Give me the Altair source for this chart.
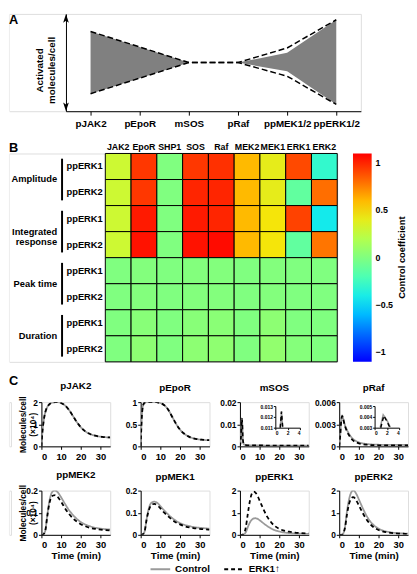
import altair as alt
import pandas as pd

FONT = "Liberation Sans"

# ---------------- Panel A ----------------
A_CATS = ["pJAK2", "pEpoR", "mSOS", "pRaf", "ppMEK1/2", "ppERK1/2"]
A_UPPER = [8.2, 6.6, 5.0, 5.0, 6.5, 9.4]
A_LOWER = [1.8, 3.4, 5.0, 5.0, 3.6, 0.7]
A_FILL_UPPER = [8.2, 6.6, 5.0, 5.0, 6.0, 9.4]
A_FILL_LOWER = [1.8, 3.4, 5.0, 5.0, 4.1, 0.7]
A_RANGE = [0, 10]
A_YTITLE = ["Activated", "molecules/cell"]

# ---------------- Panel B ----------------
B_COLS = ["JAK2", "EpoR", "SHP1", "SOS", "Raf", "MEK2", "MEK1", "ERK1", "ERK2"]
B_GROUPS = ["Amplitude", "Integrated\nresponse", "Peak time", "Duration"]
B_READOUTS = ["ppERK1", "ppERK2"]
B_VALUES = [
    [0.30, 0.95, 0.00, 0.95, 0.97, 0.60, 0.40, 0.90, -0.30],   # Amplitude ppERK1
    [0.30, 0.95, 0.00, 1.00, 1.00, 0.60, 0.40, -0.12, 0.80],   # Amplitude ppERK2
    [0.30, 1.03, 0.00, 1.03, 1.00, 0.60, 0.46, 0.92, -0.42],   # Integrated ppERK1
    [0.30, 1.05, 0.00, 1.05, 1.07, 0.60, 0.46, -0.12, 0.78],   # Integrated ppERK2
    [0.00, 0.01, 0.00, 0.01, 0.01, 0.00, 0.01, 0.00, 0.00],    # Peak time ppERK1
    [0.00, 0.01, 0.00, 0.01, 0.01, 0.00, 0.01, 0.00, 0.00],    # Peak time ppERK2
    [0.00, 0.03, 0.00, 0.03, 0.04, 0.00, 0.05, 0.00, 0.00],    # Duration ppERK1
    [0.00, 0.05, 0.00, 0.05, 0.06, 0.00, 0.07, 0.02, 0.00],    # Duration ppERK2
]
CB_STOPS = [-1.1, -0.75, -0.5, -0.25, 0, 0.25, 0.5, 0.75, 1.1]
CB_COLORS = ["#0000ff", "#0080ff", "#00e0ff", "#40ffc0", "#80ff80",
             "#c0ff40", "#ffe000", "#ff8000", "#ff0000"]
CB_TICKS = [-1, -0.5, 0, 0.5, 1]
CB_TITLE = "Control coefficient"

# ---------------- Panel C ----------------
SERIES = ["Control", "ERK1\u2191"]
T = [0, 0.5, 1, 1.5, 2, 3, 4, 5, 6, 7, 8, 9, 10, 12, 14, 16, 18, 20, 22, 25, 28, 31, 35]
PJAK2_CTRL = [0, 0.65, 1.05, 1.35, 1.55, 1.78, 1.9, 1.96, 1.99, 2.0, 2.0, 1.99, 1.96, 1.85, 1.65, 1.38, 1.1, 0.87, 0.7, 0.55, 0.47, 0.43, 0.4]
PJAK2_ERK1 = [0, 0.65, 1.05, 1.35, 1.55, 1.78, 1.9, 1.96, 1.99, 2.0, 2.0, 1.99, 1.96, 1.85, 1.65, 1.38, 1.1, 0.87, 0.7, 0.55, 0.47, 0.43, 0.4]
PEPOR_CTRL = [0, 0.6, 0.88, 0.96, 0.99, 1.0, 1.0, 1.0, 1.0, 1.0, 1.0, 0.99, 0.98, 0.93, 0.83, 0.67, 0.51, 0.38, 0.29, 0.21, 0.17, 0.15, 0.14]
PEPOR_ERK1 = [0, 0.6, 0.88, 0.96, 0.99, 1.0, 1.0, 1.0, 1.0, 1.0, 1.0, 0.99, 0.98, 0.93, 0.83, 0.67, 0.51, 0.38, 0.29, 0.21, 0.17, 0.15, 0.14]
MSOS_CTRL = [0, 0.004, 0.0125, 0.003, 0.0009, 0.0006, 0.0005, 0.0005, 0.0004, 0.0004, 0.0004, 0.0004, 0.0004, 0.0004, 0.0003, 0.0003, 0.0003, 0.0003, 0.0003, 0.0003, 0.0003, 0.0003, 0.0003]
MSOS_ERK1 = [0, 0.004, 0.0125, 0.003, 0.0009, 0.0006, 0.0005, 0.0005, 0.0004, 0.0004, 0.0004, 0.0004, 0.0004, 0.0004, 0.0003, 0.0003, 0.0003, 0.0003, 0.0003, 0.0003, 0.0003, 0.0003, 0.0003]
PRAF_CTRL = [0, 0.0015, 0.0035, 0.0042, 0.0038, 0.0028, 0.0022, 0.0017, 0.0013, 0.001, 0.0008, 0.00065, 0.00055, 0.0004, 0.00032, 0.00027, 0.00024, 0.00022, 0.0002, 0.0002, 0.0002, 0.0002, 0.0002]
PRAF_ERK1 = [0, 0.0014, 0.0034, 0.0041, 0.0037, 0.0027, 0.002, 0.0015, 0.0011, 0.0008, 0.0006, 0.0005, 0.0004, 0.0003, 0.00022, 0.00018, 0.00016, 0.00015, 0.00014, 0.00013, 0.00012, 0.00012, 0.00012]
PPMEK2_CTRL = [0, 0, 0.002, 0.008, 0.02, 0.09, 0.15, 0.185, 0.198, 0.2, 0.195, 0.184, 0.17, 0.14, 0.112, 0.09, 0.072, 0.058, 0.048, 0.038, 0.031, 0.027, 0.024]
PPMEK2_ERK1 = [0, 0, 0.002, 0.008, 0.02, 0.085, 0.14, 0.17, 0.178, 0.18, 0.175, 0.163, 0.15, 0.12, 0.095, 0.075, 0.06, 0.048, 0.04, 0.031, 0.026, 0.022, 0.02]
PPMEK1_CTRL = [0, 0, 0.002, 0.006, 0.015, 0.07, 0.115, 0.14, 0.148, 0.15, 0.147, 0.14, 0.13, 0.11, 0.092, 0.076, 0.063, 0.053, 0.046, 0.039, 0.034, 0.031, 0.028]
PPMEK1_ERK1 = [0, 0, 0.002, 0.006, 0.015, 0.068, 0.107, 0.13, 0.138, 0.14, 0.136, 0.129, 0.12, 0.1, 0.083, 0.068, 0.056, 0.047, 0.04, 0.033, 0.029, 0.026, 0.023]
PPERK1_CTRL = [0, 0, 0, 0.005, 0.02, 0.12, 0.35, 0.55, 0.68, 0.74, 0.75, 0.72, 0.66, 0.52, 0.39, 0.28, 0.2, 0.15, 0.11, 0.08, 0.06, 0.05, 0.04]
PPERK1_ERK1 = [0, 0, 0, 0.01, 0.05, 0.35, 0.95, 1.5, 1.85, 1.95, 1.9, 1.75, 1.55, 1.15, 0.8, 0.55, 0.38, 0.27, 0.2, 0.14, 0.1, 0.08, 0.06]
PPERK2_CTRL = [0, 0, 0, 0.01, 0.05, 0.4, 1.1, 1.6, 1.9, 2.0, 1.95, 1.8, 1.6, 1.2, 0.85, 0.58, 0.4, 0.28, 0.2, 0.13, 0.09, 0.07, 0.05]
PPERK2_ERK1 = [0, 0, 0, 0.01, 0.05, 0.35, 0.95, 1.4, 1.62, 1.7, 1.65, 1.5, 1.33, 0.98, 0.68, 0.46, 0.31, 0.22, 0.16, 0.1, 0.07, 0.055, 0.04]

# insets (zoom on early times)
MSOS_INSET_T = [0.8, 1.0, 1.2]
MSOS_INSET_CTRL = [0.011, 0.0125, 0.011]
MSOS_INSET_ERK1 = [0.011, 0.0125, 0.011]
PRAF_INSET_T_CTRL = [0.9, 1.4, 2.0, 2.6]
PRAF_INSET_CTRL = [0.003, 0.0042, 0.0037, 0.003]
PRAF_INSET_T_ERK1 = [1.0, 1.5, 2.0, 2.5]
PRAF_INSET_ERK1 = [0.003, 0.0041, 0.0036, 0.003]

C_YTITLE = ["Molecules/cell", "(\u00d710\u2074)"]
C_XTITLE = "Time (min)"
C_XTICKS = [0, 10, 20, 30]
C_XDOMAIN = [0, 35]

ARROW_UP = "M0,0L0.42,1.3L0,1.0L-0.42,1.3Z"
ARROW_DOWN = "M0,0L0.42,-1.3L0,-1.0L-0.42,-1.3Z"

# layout sizes (plot areas)
A_W, A_H = 300, 99
B_W, B_H = 236, 212
C_W, C_H = 70, 45


def spacer(w, h, top, bottom, letter="", ly=0, baseline="top"):
    """Row lead-in: holds the panel letter and a white guide that fixes the row's extent."""
    guide = alt.Chart(pd.DataFrame({"t": [""]})).mark_rule(color="white", strokeWidth=0.5).encode(
        x=alt.value(0.5), y=alt.value(top), y2=alt.value(bottom))
    text = alt.Chart(pd.DataFrame({"t": [letter]})).mark_text(
        align="left", baseline=baseline, fontSize=13, fontWeight="bold",
        font=FONT, color="black").encode(text="t:N", x=alt.value(0), y=alt.value(ly))
    return alt.layer(guide, text).properties(width=w, height=h)


# ---------- Panel A chart ----------
a_fill = pd.DataFrame({"cat": A_CATS, "hi": A_FILL_UPPER, "lo": A_FILL_LOWER})
a_lines = pd.DataFrame({"cat": A_CATS * 2, "v": A_UPPER + A_LOWER,
                        "edge": ["upper"] * len(A_CATS) + ["lower"] * len(A_CATS)})
xA = alt.X("cat:N", sort=A_CATS, scale=alt.Scale(type="point", padding=0.5),
           axis=alt.Axis(title=None, labelAngle=0, labelFontSize=10, labelFontWeight="bold",
                         tickSize=4, labelPadding=4))
yscaleA = alt.Scale(domain=A_RANGE, nice=False, zero=False)
yaxisA = alt.Axis(title=A_YTITLE, labels=False, ticks=False, grid=False,
                  titleFontSize=10, titleFontWeight="bold", titlePadding=10, titleY=57)
area = alt.Chart(a_fill).mark_area(color="#808080", opacity=1, interpolate="linear").encode(
    x=xA, y=alt.Y("hi:Q", scale=yscaleA, axis=yaxisA), y2="lo:Q")
edges = alt.Chart(a_lines).mark_line(color="black", strokeDash=[6, 3], strokeWidth=1.5).encode(
    x=xA, y=alt.Y("v:Q", scale=yscaleA, axis=yaxisA), detail="edge:N")
head_top = alt.Chart(pd.DataFrame({"v": [A_RANGE[1]]})).mark_point(
    shape=ARROW_UP, filled=True, color="black", size=190, opacity=1).encode(
    x=alt.value(0), y=alt.Y("v:Q", scale=yscaleA, axis=yaxisA))
head_bot = alt.Chart(pd.DataFrame({"v": [A_RANGE[0]]})).mark_point(
    shape=ARROW_DOWN, filled=True, color="black", size=190, opacity=1).encode(
    x=alt.value(0), y=alt.Y("v:Q", scale=yscaleA, axis=yaxisA))
chartA = alt.layer(area, edges, head_top, head_bot).properties(width=A_W, height=A_H)

# ---------- Panel B chart ----------
row_keys = [f"{g}|{r}" for g in B_GROUPS for r in B_READOUTS]
recs = []
for i, rk in enumerate(row_keys):
    for j, c in enumerate(B_COLS):
        recs.append({"row": rk, "col": c, "value": B_VALUES[i][j]})
hdf = pd.DataFrame(recs)
heat = alt.Chart(hdf).mark_rect(stroke="black", strokeWidth=1).encode(
    x=alt.X("col:N", sort=B_COLS, axis=alt.Axis(orient="top", title=None, labelAngle=0,
                                                 domain=False, ticks=False, labelPadding=2,
                                                 labelFontSize=9, labelFontWeight="bold")),
    y=alt.Y("row:N", sort=row_keys, axis=alt.Axis(title=None, domain=False, ticks=False, tickSize=0,
                                                   labelPadding=40, labelAlign="left",
                                                   labelExpr="split(datum.value, '|')[1]",
                                                   labelFontSize=9.5, labelFontWeight="bold")),
    color=alt.Color("value:Q",
                    scale=alt.Scale(domain=CB_STOPS, range=CB_COLORS, interpolate="rgb"),
                    legend=alt.Legend(orient="none", legendX=350, legendY=0, direction="vertical",
                                      gradientLength=B_H, gradientThickness=19, values=CB_TICKS,
                                      format="~g", labelFontSize=9, labelFontWeight="bold",
                                      labelOffset=4, title=None, gradientStrokeWidth=0)),
)
cb_title = alt.Chart(pd.DataFrame({"t": [CB_TITLE]})).mark_text(
    angle=270, fontSize=9.5, fontWeight="bold", font=FONT, color="black",
    align="center", baseline="middle").encode(text="t:N", x=alt.value(302), y=alt.value(106))

gdf = pd.DataFrame({"g": B_GROUPS})
gscale = alt.Scale(domain=B_GROUPS, paddingInner=0.2, paddingOuter=0.1)
gbars = alt.Chart(gdf).mark_rect(color="black").encode(
    y=alt.Y("g:N", scale=gscale, axis=None), x=alt.value(-45), x2=alt.value(-43))
gtext = alt.Chart(gdf).mark_text(align="right", baseline="middle", lineBreak="\n",
                                 fontSize=9.5, fontWeight="bold", font=FONT, color="black",
                                 lineHeight=11).encode(
    y=alt.Y("g:N", scale=gscale, axis=None), x=alt.value(-49), text="g:N")
heatB = alt.layer(heat, gbars, gtext, cb_title).resolve_scale(y="independent").properties(
    width=B_W, height=B_H)


# ---------- Panel C charts ----------
def c_chart(name, ymax, yticks, ctrl, erk, first_col, bottom_row, legend=None, inset=None):
    df = pd.DataFrame({"t": T * 2, "v": ctrl + erk,
                       "s": [SERIES[0]] * len(T) + [SERIES[1]] * len(T)})
    cscale = alt.Scale(domain=SERIES, range=["#9a9a9a", "#000000"])
    dscale = alt.Scale(domain=SERIES, range=[[1, 0], [4, 3]])
    ykw = dict(values=yticks, format="~g", tickSize=3, labelPadding=1, labelFontSize=8.5,
               labelFontWeight="bold", grid=False)
    if first_col:
        ykw.update(title=C_YTITLE, titleX=-14, titleFontSize=8.5, titleFontWeight="bold",
                   titleLineHeight=10)
    else:
        ykw["title"] = None
    xkw = dict(values=C_XTICKS, tickSize=3, labelPadding=2, labelFontSize=9.5,
               labelFontWeight="bold", labelAngle=0, grid=False)
    if bottom_row:
        xkw.update(title=C_XTITLE, titleFontSize=10, titleFontWeight="bold", titlePadding=2)
    else:
        xkw["title"] = None
    main = alt.Chart(df).mark_line(strokeWidth=1.8, interpolate="monotone", clip=True).encode(
        x=alt.X("t:Q", scale=alt.Scale(domain=C_XDOMAIN, nice=False), axis=alt.Axis(**xkw)),
        y=alt.Y("v:Q", scale=alt.Scale(domain=[0, ymax], nice=False), axis=alt.Axis(**ykw)),
        color=alt.Color("s:N", scale=cscale, legend=legend),
        strokeDash=alt.StrokeDash("s:N", scale=dscale, legend=legend),
    )
    if inset is None:
        ch = main
    else:
        t_c, v_c, t_e, v_e, ydom, yv = inset
        idf = pd.DataFrame({"t": t_c + t_e, "v": v_c + v_e,
                            "s": [SERIES[0]] * len(t_c) + [SERIES[1]] * len(t_e)})
        ins = alt.Chart(idf).mark_line(strokeWidth=1.5).encode(
            x=alt.X("t:Q", scale=alt.Scale(domain=[0, 4], range=[36, 61], nice=False),
                    axis=alt.Axis(orient="bottom", offset=-19, values=[0, 2, 4], title=None,
                                  tickSize=2, labelPadding=1, labelFontSize=5,
                                  labelFontWeight="bold", grid=False)),
            y=alt.Y("v:Q", scale=alt.Scale(domain=ydom, range=[26, 4], nice=False, zero=False),
                    axis=alt.Axis(orient="left", offset=-36, values=yv, format="~g", title=None,
                                  tickSize=2, labelPadding=1, labelFontSize=5,
                                  labelFontWeight="bold", grid=False)),
            color=alt.Color("s:N", scale=cscale, legend=None),
            strokeDash=alt.StrokeDash("s:N", scale=dscale, legend=None),
        )
        ch = alt.layer(main, ins).resolve_scale(x="independent", y="independent")
    return ch.properties(width=C_W, height=C_H,
                         title=alt.TitleParams(name, fontSize=10, fontWeight="bold", offset=5))


legendC = alt.Legend(orient="none", legendX=9, legendY=69, direction="horizontal", title=None,
                     symbolType="stroke", symbolSize=400, symbolStrokeWidth=2,
                     labelFontSize=10, labelFontWeight="bold", columnPadding=10, labelOffset=4)

c_pjak2 = c_chart("pJAK2", 2, [0, 1, 2], PJAK2_CTRL, PJAK2_ERK1, True, False)
c_pepor = c_chart("pEpoR", 1, [0, 0.5, 1], PEPOR_CTRL, PEPOR_ERK1, False, False)
c_msos = c_chart("mSOS", 0.02, [0, 0.01, 0.02], MSOS_CTRL, MSOS_ERK1, False, False,
                 inset=(MSOS_INSET_T, MSOS_INSET_CTRL, MSOS_INSET_T, MSOS_INSET_ERK1,
                        [0.011, 0.013], [0.011, 0.012, 0.013]))
c_praf = c_chart("pRaf", 0.006, [0, 0.003, 0.006], PRAF_CTRL, PRAF_ERK1, False, False,
                 inset=(PRAF_INSET_T_CTRL, PRAF_INSET_CTRL, PRAF_INSET_T_ERK1, PRAF_INSET_ERK1,
                        [0.003, 0.005], [0.003, 0.004, 0.005]))
c_ppmek2 = c_chart("ppMEK2", 0.2, [0, 0.1, 0.2], PPMEK2_CTRL, PPMEK2_ERK1, True, True)
c_ppmek1 = c_chart("ppMEK1", 0.2, [0, 0.1, 0.2], PPMEK1_CTRL, PPMEK1_ERK1, False, True,
                   legend=legendC)
c_pperk1 = c_chart("ppERK1", 2, [0, 1, 2], PPERK1_CTRL, PPERK1_ERK1, False, True)
c_pperk2 = c_chart("ppERK2", 2, [0, 1, 2], PPERK2_CTRL, PPERK2_ERK1, False, True)

# ---------- assembly ----------
rowA = alt.hconcat(spacer(58, A_H, 0, 124, "A", 0, "top"), chartA, spacing=0, bounds="flush")
rowB = alt.hconcat(spacer(98, B_H, -16, 218, "B", -6, "middle"), heatB, spacing=0, bounds="flush")
rowC1 = alt.hconcat(spacer(2, C_H, -33, 67, "C", -21, "middle"), c_pjak2, c_pepor, c_msos, c_praf,
                    spacing=31, bounds="flush").resolve_scale(color="independent",
                                                              strokeDash="independent")
rowC2 = alt.hconcat(spacer(2, C_H, -20, 88), c_ppmek2, c_ppmek1, c_pperk1, c_pperk2,
                    spacing=31, bounds="flush").resolve_scale(color="independent",
                                                              strokeDash="independent")

chart = alt.vconcat(rowA, rowB, rowC1, rowC2, spacing=0).resolve_scale(
    color="independent", strokeDash="independent").properties(
    padding=0
).configure_view(stroke=None).configure(font=FONT).configure_axis(
    labelFont=FONT, titleFont=FONT, labelColor="black", titleColor="black",
    domainColor="black", tickColor="black", grid=False
).configure_legend(labelFont=FONT, titleFont=FONT, labelColor="black").configure_title(
    font=FONT, color="black")

chart.save("out.html", embed_options={"renderer": "svg", "actions": False})
